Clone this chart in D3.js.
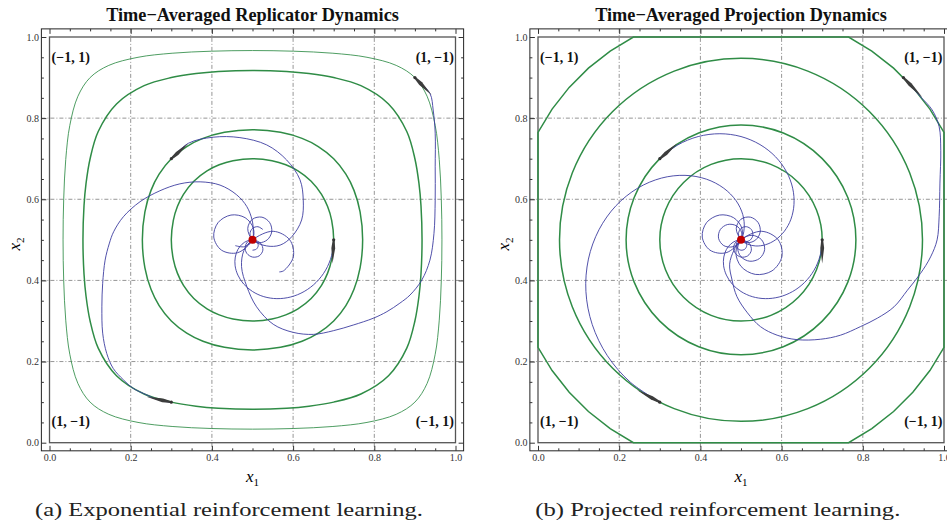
<!DOCTYPE html>
<html>
<head>
<meta charset="utf-8">
<title>Time-Averaged Dynamics</title>
<script src="https://d3js.org/d3.v7.min.js"></script>
<style>
    body { margin: 0; background: #fff; }
    svg text { font-family: "Liberation Serif", "Times New Roman", serif; }
</style>
</head>
<body>
<svg id="chart" width="947" height="522"></svg>
<script>
// ---- data ----
const ticksMajor = [0, 0.2, 0.4, 0.6, 0.8, 1.0];
const tickLabels = ["0.0", "0.2", "0.4", "0.6", "0.8", "1.0"];
const ticksMinor = [0.05, 0.1, 0.15, 0.25, 0.3, 0.35, 0.45, 0.5, 0.55, 0.65, 0.7, 0.75, 0.85, 0.9, 0.95];
const gridValues = [0.2, 0.4, 0.6, 0.8];

const titles = ["Time\u2212Averaged Replicator Dynamics", "Time\u2212Averaged Projection Dynamics"];
const captions = ["(a) Exponential reinforcement learning.", "(b) Projected reinforcement learning."];
const cornerLabels = [
    { text: "(\u22121, 1)", x: 0, y: 1 },
    { text: "(1, \u22121)", x: 1, y: 1 },
    { text: "(1, \u22121)", x: 0, y: 0 },
    { text: "(\u22121, 1)", x: 1, y: 0 }
];

const equilibrium = [0.5, 0.5];
const startPoints = [[0.9, 0.9], [0.3, 0.7], [0.7, 0.5], [0.3, 0.1]];

// replicator orbits (closed curves through the start points)
const replicatorOrbits = [
    [[0.0334,0.5],[0.035,0.601],[0.04,0.698],[0.05,0.782],[0.07,0.854],[0.1,0.9],[0.146,0.93],[0.218,0.95],[0.302,0.96],[0.399,0.965],[0.5,0.9666],[0.601,0.965],[0.698,0.96],[0.782,0.95],[0.854,0.93],[0.9,0.9],[0.93,0.854],[0.95,0.782],[0.96,0.698],[0.965,0.601],[0.9666,0.5],[0.965,0.399],[0.96,0.302],[0.95,0.218],[0.93,0.146],[0.9,0.1],[0.854,0.07],[0.782,0.05],[0.698,0.04],[0.601,0.035],[0.5,0.0334],[0.399,0.035],[0.302,0.04],[0.218,0.05],[0.146,0.07],[0.1,0.1],[0.07,0.146],[0.05,0.218],[0.04,0.302],[0.035,0.399]],
    [[0.0824,0.5],[0.085,0.584],[0.09,0.639],[0.1,0.7],[0.12,0.767],[0.165,0.835],[0.233,0.88],[0.3,0.9],[0.361,0.91],[0.416,0.915],[0.5,0.9176],[0.584,0.915],[0.639,0.91],[0.7,0.9],[0.767,0.88],[0.835,0.835],[0.88,0.767],[0.9,0.7],[0.91,0.639],[0.915,0.584],[0.9176,0.5],[0.915,0.416],[0.91,0.361],[0.9,0.3],[0.88,0.233],[0.835,0.165],[0.767,0.12],[0.7,0.1],[0.639,0.09],[0.584,0.085],[0.5,0.0824],[0.416,0.085],[0.361,0.09],[0.3,0.1],[0.233,0.12],[0.165,0.165],[0.12,0.233],[0.1,0.3],[0.09,0.361],[0.085,0.416]],
    [[0.2287,0.5],[0.235,0.569],[0.25,0.622],[0.27,0.662],[0.3,0.7],[0.338,0.73],[0.378,0.75],[0.431,0.765],[0.5,0.7713],[0.569,0.765],[0.622,0.75],[0.662,0.73],[0.7,0.7],[0.73,0.662],[0.75,0.622],[0.765,0.569],[0.7713,0.5],[0.765,0.431],[0.75,0.378],[0.73,0.338],[0.7,0.3],[0.662,0.27],[0.622,0.25],[0.569,0.235],[0.5,0.2287],[0.431,0.235],[0.378,0.25],[0.338,0.27],[0.3,0.3],[0.27,0.338],[0.25,0.378],[0.235,0.431]],
    [[0.3,0.5],[0.305,0.548],[0.315,0.582],[0.33,0.612],[0.3555,0.6445],[0.388,0.67],[0.418,0.685],[0.452,0.695],[0.5,0.7],[0.548,0.695],[0.582,0.685],[0.612,0.67],[0.6445,0.6445],[0.67,0.612],[0.685,0.582],[0.695,0.548],[0.7,0.5],[0.695,0.452],[0.685,0.418],[0.67,0.388],[0.6445,0.3555],[0.612,0.33],[0.582,0.315],[0.548,0.305],[0.5,0.3],[0.452,0.305],[0.418,0.315],[0.388,0.33],[0.3555,0.3555],[0.33,0.388],[0.315,0.418],[0.305,0.452]]
];

// time averages, replicator panel
const replicatorAverages = [
    [[0.9,0.9],[0.937,0.861],[0.945,0.82],[0.95,0.763],[0.95,0.68],[0.95,0.598],[0.947,0.516],[0.937,0.45],[0.917,0.401],[0.888,0.364],[0.863,0.344],[0.831,0.323],[0.798,0.307],[0.748,0.29],[0.699,0.276],[0.65,0.267],[0.6,0.272],[0.551,0.292],[0.51,0.335],[0.486,0.385],[0.473,0.434],[0.479,0.474],[0.5,0.5],[0.5509,0.5211],[0.5917,0.5],[0.6006,0.4583],[0.5764,0.4236],[0.566,0.421]],
    [[0.3,0.7],[0.342,0.738],[0.403,0.753],[0.469,0.752],[0.535,0.734],[0.584,0.697],[0.617,0.648],[0.625,0.598],[0.621,0.549],[0.597,0.508],[0.568,0.487],[0.535,0.485],[0.5,0.5],[0.4883,0.5283],[0.5,0.5509],[0.5232,0.5559],[0.5424,0.5424],[0.5473,0.5196],[0.5364,0.5],[0.517,0.493],[0.5,0.5],[0.4938,0.515],[0.5,0.5283],[0.5134,0.5324],[0.5255,0.5255]],
    [[0.7,0.5],[0.6949,0.4612],[0.6801,0.4254],[0.6568,0.3952],[0.6273,0.3727],[0.5941,0.3592],[0.56,0.3551],[0.5278,0.36],[0.5,0.3727],[0.4783,0.3911],[0.464,0.4131],[0.4572,0.436],[0.4576,0.4576],[0.4638,0.4758],[0.4743,0.4893],[0.487,0.4974],[0.5,0.5],[0.52,0.4917],[0.5255,0.4745],[0.5164,0.4605],[0.5,0.4576],[0.4861,0.4666],[0.4818,0.4818],[0.488,0.495],[0.5,0.5],[0.5106,0.4956],[0.5141,0.4859],[0.5095,0.4771],[0.5,0.4745]],
    [[0.3,0.099],[0.264,0.107],[0.239,0.118],[0.206,0.134],[0.182,0.155],[0.157,0.183],[0.141,0.22],[0.131,0.27],[0.129,0.335],[0.131,0.393],[0.137,0.45],[0.147,0.49],[0.158,0.52],[0.182,0.557],[0.223,0.594],[0.272,0.621],[0.321,0.638],[0.371,0.643],[0.42,0.635],[0.461,0.611],[0.486,0.582],[0.499,0.549],[0.502,0.52],[0.5,0.5],[0.4634,0.4683],[0.4236,0.4746],[0.4046,0.5068],[0.4151,0.5424],[0.447,0.5611],[0.4818,0.5546],[0.502,0.529],[0.5,0.5],[0.4806,0.4832],[0.4576,0.4858]]
];
const replicatorMarkerEnds = [[0.941,0.857], [0.342,0.738], [0.697,0.442], [0.239,0.113]];

// projection panel: circular orbits and the orbit that slides along the boundary
const projectionRadii = [0.2, 0.283, 0.447];
const projectionBoundaryOrbit = [[0,0.235],[0,0.765],[0.0347,0.8222],[0.0768,0.8758],[0.1242,0.9232],[0.1778,0.9653],[0.235,1],[0.765,1],[0.8222,0.9653],[0.8758,0.9232],[0.9232,0.8758],[0.9653,0.8222],[1,0.765],[1,0.235],[0.9653,0.1778],[0.9232,0.1242],[0.8758,0.0768],[0.8222,0.0347],[0.765,0],[0.235,0],[0.1778,0.0347],[0.1242,0.0768],[0.0768,0.1242],[0.0347,0.1778]];

const projectionAverages = [
    [[0.9,0.9],[0.942,0.853],[0.971,0.82],[0.988,0.779],[0.992,0.721],[0.99,0.64],[0.988,0.557],[0.983,0.5],[0.967,0.458],[0.942,0.417],[0.91,0.376],[0.877,0.335],[0.836,0.307],[0.794,0.286],[0.745,0.265],[0.696,0.255],[0.638,0.254],[0.589,0.265],[0.548,0.286],[0.516,0.32],[0.49,0.36],[0.478,0.401],[0.472,0.44],[0.483,0.475],[0.5,0.5],[0.5509,0.5211],[0.5917,0.5],[0.6006,0.4583],[0.5764,0.4236],[0.5352,0.4149],[0.5,0.4346],[0.4874,0.4694],[0.5,0.5],[0.527,0.5112],[0.5509,0.5],[0.5582,0.4759],[0.5458,0.4542],[0.5218,0.4473],[0.5,0.4583],[0.4918,0.4801],[0.5,0.5]],
    [[0.3,0.7],[0.3439,0.7337],[0.3945,0.7546],[0.448,0.7616],[0.5,0.7546],[0.5467,0.7349],[0.5849,0.7049],[0.6121,0.6678],[0.6273,0.6273],[0.6305,0.5872],[0.623,0.5509],[0.6068,0.5212],[0.5849,0.5],[0.5604,0.488],[0.5364,0.4849],[0.5156,0.4896],[0.5,0.5],[0.4883,0.5283],[0.5,0.5509],[0.5232,0.5559],[0.5424,0.5424],[0.5473,0.5196],[0.5364,0.5],[0.517,0.493],[0.5,0.5],[0.4938,0.515],[0.5,0.5283],[0.5134,0.5324],[0.5255,0.5255],[0.5293,0.5121],[0.5232,0.5],[0.5111,0.4954],[0.5,0.5]],
    [[0.7,0.5],[0.6949,0.4612],[0.6801,0.4254],[0.6568,0.3952],[0.6273,0.3727],[0.5941,0.3592],[0.56,0.3551],[0.5278,0.36],[0.5,0.3727],[0.4783,0.3911],[0.464,0.4131],[0.4572,0.436],[0.4576,0.4576],[0.4638,0.4758],[0.4743,0.4893],[0.487,0.4974],[0.5,0.5],[0.52,0.4917],[0.5255,0.4745],[0.5164,0.4605],[0.5,0.4576],[0.4861,0.4666],[0.4818,0.4818],[0.488,0.495],[0.5,0.5],[0.5106,0.4956],[0.5141,0.4859],[0.5095,0.4771],[0.5,0.4745],[0.4914,0.4793],[0.4884,0.4884],[0.4922,0.4968],[0.5,0.5]],
    [[0.3,0.1],[0.2276,0.149],[0.1708,0.2145],[0.1336,0.2911],[0.118,0.3727],[0.1242,0.4526],[0.1502,0.5249],[0.1922,0.5843],[0.2454,0.6273],[0.3039,0.6522],[0.3621,0.659],[0.4148,0.6496],[0.4575,0.6273],[0.4878,0.5966],[0.5044,0.5621],[0.5078,0.5286],[0.5,0.5],[0.4634,0.4683],[0.4236,0.4746],[0.4046,0.5068],[0.4151,0.5424],[0.447,0.5611],[0.4818,0.5546],[0.502,0.529],[0.5,0.5],[0.4806,0.4832],[0.4576,0.4858],[0.4447,0.5039],[0.4491,0.5255],[0.4672,0.5379],[0.4884,0.5348],[0.5013,0.5188],[0.5,0.5]]
];
const projectionMarkerEnds = [[0.947,0.851], [0.343,0.738], [0.7,0.442], [0.244,0.13]];

// ---- drawing ----
const svg = d3.select("#chart");
const W = 406, yTop = 37, yBot = 442.7, pad = 0.02;
const green = "#2f8c46", blue = "#3d3da0";

// tapered start marker, like a thin arrow body
function markerPath(x0, y0, x1, y1) {
    const dx = x1 - x0, dy = y1 - y0, len = Math.hypot(dx, dy);
    const nx = -dy / len, ny = dx / len;
    const mx = x0 + dx * 0.35, my = y0 + dy * 0.35;
    return `M${x0 + nx * 0.9},${y0 + ny * 0.9} L${mx + nx * 1.9},${my + ny * 1.9} L${x1},${y1} ` +
           `L${mx - nx * 1.9},${my - ny * 1.9} L${x0 - nx * 0.9},${y0 - ny * 0.9} Z`;
}

function drawPanel(p) {
    const x = d3.scaleLinear().domain([0, 1]).range([p.left, p.left + W]);
    const y = d3.scaleLinear().domain([0, 1]).range([yBot, yTop]);
    const g = svg.append("g");
    const fx0 = x(-pad), fx1 = x(1 + pad), fy0 = y(-pad), fy1 = y(1 + pad);

    // grid lines
    g.selectAll(".vgrid").data(gridValues).enter().append("line")
        .attr("x1", d => x(d)).attr("x2", d => x(d)).attr("y1", fy1).attr("y2", fy0)
        .attr("stroke", "#8a8a8a").attr("stroke-width", 0.9).attr("stroke-dasharray", "4,2,1,2");
    g.selectAll(".hgrid").data(gridValues).enter().append("line")
        .attr("y1", d => y(d)).attr("y2", d => y(d)).attr("x1", fx0).attr("x2", fx1)
        .attr("stroke", "#8a8a8a").attr("stroke-width", 0.9).attr("stroke-dasharray", "4,2,1,2");

    // strategy square
    g.append("rect")
        .attr("x", x(0)).attr("y", y(1)).attr("width", x(1) - x(0)).attr("height", y(0) - y(1))
        .attr("fill", "none").attr("stroke", "#555").attr("stroke-width", 1.3);

    // orbits
    p.orbits(g, x, y);

    // time averages
    const line = d3.line().x(d => x(d[0])).y(d => y(d[1])).curve(d3.curveCatmullRom.alpha(0.5));
    g.selectAll(".avg").data(p.averages).enter().append("path")
        .attr("d", line).attr("fill", "none").attr("stroke", blue).attr("stroke-width", 0.9);

    // start markers
    g.selectAll(".mark").data(startPoints).enter().append("path")
        .attr("d", (d, i) => markerPath(x(d[0]), y(d[1]), x(p.markerEnds[i][0]), y(p.markerEnds[i][1])))
        .attr("fill", "#3c3c3c");
    g.selectAll(".dot").data(startPoints).enter().append("circle")
        .attr("cx", d => x(d[0])).attr("cy", d => y(d[1])).attr("r", 1.6).attr("fill", "#333");

    // equilibrium
    g.append("circle").attr("cx", x(equilibrium[0])).attr("cy", y(equilibrium[1]))
        .attr("r", 4).attr("fill", "#c00000");

    // corner labels
    g.selectAll(".corner").data(cornerLabels).enter().append("text")
        .attr("x", d => d.x === 0 ? x(0) + 2 : x(1) - 1.5)
        .attr("y", d => d.y === 1 ? y(1) + 25 : y(0) - 16.5)
        .attr("text-anchor", d => d.x === 0 ? "start" : "end")
        .attr("font-size", 14).attr("font-weight", "bold").attr("fill", "#111")
        .text(d => d.text);

    // outer frame
    g.append("rect").attr("x", fx0).attr("y", fy1).attr("width", fx1 - fx0).attr("height", fy0 - fy1)
        .attr("fill", "none").attr("stroke", "#222").attr("stroke-width", 1);

    // ticks
    const styleAxis = a => {
        a.select(".domain").remove();
        a.attr("font-family", "Liberation Serif, serif").attr("font-size", 10).attr("color", "#333");
    };
    g.append("g").attr("transform", `translate(0,${fy0})`)
        .call(d3.axisBottom(x).tickValues(ticksMajor).tickFormat((d, i) => tickLabels[i]).tickSize(-5).tickPadding(3.5)).call(styleAxis);
    g.append("g").attr("transform", `translate(0,${fy0})`)
        .call(d3.axisBottom(x).tickValues(ticksMinor).tickFormat("").tickSize(-2.5)).call(styleAxis);
    g.append("g").attr("transform", `translate(${fx0},0)`)
        .call(d3.axisLeft(y).tickValues(ticksMajor).tickFormat((d, i) => tickLabels[i]).tickSize(-5).tickPadding(2.5)).call(styleAxis);
    g.append("g").attr("transform", `translate(${fx0},0)`)
        .call(d3.axisLeft(y).tickValues(ticksMinor).tickFormat("").tickSize(-2.5)).call(styleAxis);
    g.append("g").attr("transform", `translate(0,${fy1})`)
        .call(d3.axisTop(x).tickValues(ticksMajor).tickFormat("").tickSize(-5)).call(styleAxis);
    g.append("g").attr("transform", `translate(0,${fy1})`)
        .call(d3.axisTop(x).tickValues(ticksMinor).tickFormat("").tickSize(-2.5)).call(styleAxis);
    g.append("g").attr("transform", `translate(${fx1},0)`)
        .call(d3.axisRight(y).tickValues(ticksMajor).tickFormat("").tickSize(-5)).call(styleAxis);
    g.append("g").attr("transform", `translate(${fx1},0)`)
        .call(d3.axisRight(y).tickValues(ticksMinor).tickFormat("").tickSize(-2.5)).call(styleAxis);

    // axis labels
    const xl = g.append("text").attr("x", x(0.5)).attr("y", 481.5).attr("text-anchor", "middle").attr("font-size", 17);
    xl.append("tspan").attr("font-style", "italic").text("x");
    xl.append("tspan").attr("font-size", 11).attr("dy", 4).text("1");
    const yl = g.append("text").attr("transform", `translate(${x(0) - 29.5},244) rotate(-90)`)
        .attr("text-anchor", "middle").attr("font-size", 17);
    yl.append("tspan").attr("font-style", "italic").text("x");
    yl.append("tspan").attr("font-size", 11).attr("dy", 4).text("2");

    // title and caption
    g.append("text").attr("x", x(0.5)).attr("y", 20.5).attr("text-anchor", "middle")
        .attr("font-size", 18.3).attr("font-weight", "bold").attr("fill", "#111").text(p.title);
    g.append("text").attr("x", p.captionX).attr("y", 515.5).attr("font-size", 18.5).attr("fill", "#222")
        .attr("textLength", p.captionWidth).attr("lengthAdjust", "spacingAndGlyphs").text(p.caption);
}

const orbitLine = d3.line().curve(d3.curveCatmullRomClosed.alpha(0.5));

drawPanel({
    left: 49.5,
    title: titles[0],
    caption: captions[0], captionX: 35, captionWidth: 388,
    averages: replicatorAverages,
    markerEnds: replicatorMarkerEnds,
    orbits: (g, x, y) => {
        g.selectAll(".orbit").data(replicatorOrbits).enter().append("path")
            .attr("d", d => orbitLine.x(p => x(p[0])).y(p => y(p[1]))(d))
            .attr("fill", "none").attr("stroke", green)
            .attr("stroke-width", (d, i) => i === 0 ? 1 : 1.5)
            .attr("stroke-opacity", (d, i) => i === 0 ? 0.85 : 1);
    }
});

drawPanel({
    left: 538,
    title: titles[1],
    caption: captions[1], captionX: 535.3, captionWidth: 365,
    averages: projectionAverages,
    markerEnds: projectionMarkerEnds,
    orbits: (g, x, y) => {
        g.selectAll(".circ").data(projectionRadii).enter().append("circle")
            .attr("cx", x(equilibrium[0])).attr("cy", y(equilibrium[1]))
            .attr("r", d => x(d) - x(0))
            .attr("fill", "none").attr("stroke", green).attr("stroke-width", 1.5);
        g.append("path")
            .attr("d", d3.line().x(p => x(p[0])).y(p => y(p[1])).curve(d3.curveLinearClosed)(projectionBoundaryOrbit))
            .attr("fill", "none").attr("stroke", green).attr("stroke-width", 1.5);
    }
});
</script>
</body>
</html>
